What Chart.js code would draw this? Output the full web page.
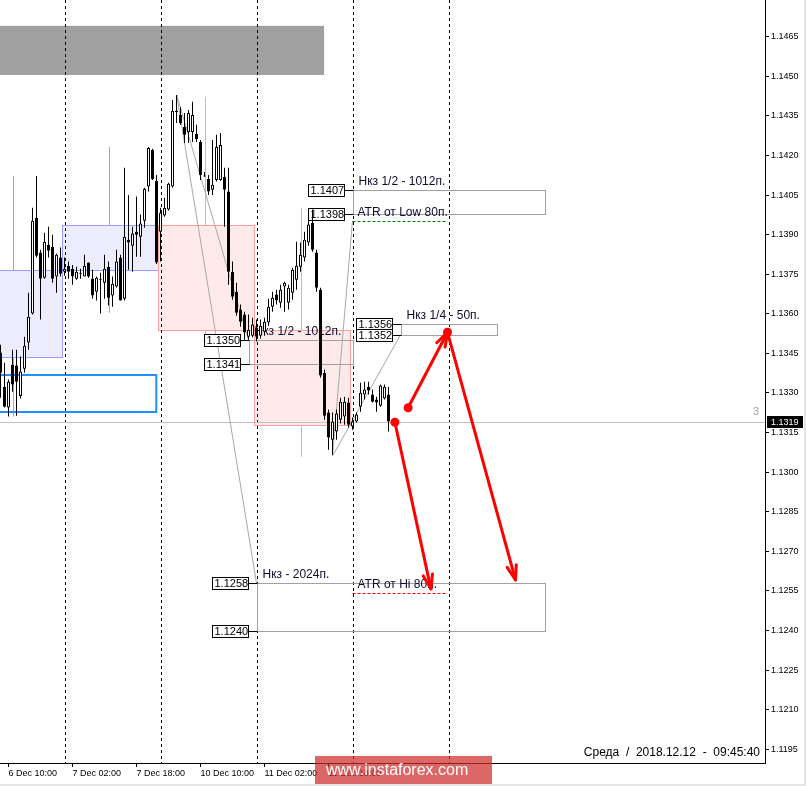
<!DOCTYPE html>
<html>
<head>
<meta charset="utf-8">
<script src="https://cdn.jsdelivr.net/npm/chart.js@4.4.1/dist/chart.umd.min.js"></script>
<style>
  html, body { margin: 0; padding: 0; background: #fff; }
</style>
</head>
<body>
<canvas id="grafico" width="806" height="786"></canvas>
<script>
// H1 bars, first one is 6 Dec 08:00 (bar index -2), 6 Dec 10:00 = 0
const firstBar = -2

const open = [
  1.13453, 1.13324, 1.13245, 1.13407, 1.13404, 1.13289, 1.13392, 1.13491, 1.13601, 1.13964,
  1.13832, 1.13737, 1.13862, 1.13854, 1.13741, 1.13813, 1.13759, 1.13782, 1.13771, 1.13733,
  1.13752, 1.13741, 1.13794, 1.13733, 1.13684, 1.13733, 1.13718, 1.13778, 1.13669, 1.13703,
  1.13813, 1.13657, 1.13881, 1.13858, 1.13911, 1.13892, 1.13953, 1.14082, 1.14221, 1.14104,
  1.13911, 1.13972, 1.13995, 1.14082, 1.14365, 1.14353, 1.14308, 1.14289, 1.14289, 1.14281,
  1.14251, 1.14122, 1.14111, 1.14070, 1.14107, 1.14107, 1.14119, 1.14063, 1.13759, 1.13684,
  1.13616, 1.13597, 1.13513, 1.13517, 1.13548, 1.13517, 1.13532, 1.13567, 1.13627, 1.13673,
  1.13642, 1.13703, 1.13642, 1.13680, 1.13729, 1.13778, 1.13813, 1.13870, 1.13945, 1.13832,
  1.13691, 1.13377, 1.13226, 1.13123, 1.13154, 1.13199, 1.13211, 1.13264, 1.13173, 1.13192,
  1.13248, 1.13294, 1.13324, 1.13294, 1.13275, 1.13252, 1.13279, 1.13294
]
const high = [
  1.13483, 1.13415, 1.13351, 1.13464, 1.13464, 1.13438, 1.13513, 1.13680, 1.14002, 1.14122,
  1.13843, 1.13907, 1.13930, 1.13900, 1.13828, 1.13851, 1.13813, 1.13798, 1.13785, 1.13778,
  1.13771, 1.13824, 1.13794, 1.13767, 1.13741, 1.13756, 1.13824, 1.13798, 1.13741, 1.13843,
  1.13824, 1.14153, 1.14050, 1.13930, 1.14044, 1.13976, 1.14078, 1.14232, 1.14225, 1.14126,
  1.14002, 1.14040, 1.14097, 1.14410, 1.14429, 1.14384, 1.14361, 1.14372, 1.14403, 1.14316,
  1.14259, 1.14137, 1.14126, 1.14259, 1.14278, 1.14285, 1.14153, 1.14153, 1.13798, 1.13718,
  1.13635, 1.13608, 1.13597, 1.13585, 1.13578, 1.13578, 1.13585, 1.13657, 1.13684, 1.13691,
  1.13710, 1.13721, 1.13710, 1.13774, 1.13873, 1.13870, 1.13911, 1.13987, 1.13995, 1.13843,
  1.13699, 1.13389, 1.13237, 1.13226, 1.13237, 1.13282, 1.13286, 1.13282, 1.13207, 1.13226,
  1.13339, 1.13343, 1.13343, 1.13313, 1.13286, 1.13332, 1.13332, 1.13324
]
const low = [
  1.13282, 1.13245, 1.13211, 1.13305, 1.13214, 1.13279, 1.13377, 1.13464, 1.13597, 1.13813,
  1.13578, 1.13733, 1.13813, 1.13718, 1.13680, 1.13741, 1.13744, 1.13733, 1.13710, 1.13729,
  1.13733, 1.13741, 1.13737, 1.13657, 1.13650, 1.13601, 1.13657, 1.13631, 1.13627, 1.13699,
  1.13650, 1.13650, 1.13767, 1.13759, 1.13816, 1.13816, 1.13926, 1.14063, 1.14107, 1.13789,
  1.13798, 1.13968, 1.13991, 1.14078, 1.14323, 1.14316, 1.14247, 1.14247, 1.14251, 1.14251,
  1.14107, 1.14119, 1.14050, 1.14050, 1.14101, 1.14104, 1.13930, 1.13710, 1.13653, 1.13593,
  1.13551, 1.13502, 1.13502, 1.13510, 1.13495, 1.13506, 1.13517, 1.13555, 1.13608, 1.13635,
  1.13623, 1.13608, 1.13616, 1.13653, 1.13691, 1.13759, 1.13798, 1.13858, 1.13835, 1.13684,
  1.13358, 1.13199, 1.13085, 1.13066, 1.13123, 1.13184, 1.13180, 1.13169, 1.13161, 1.13188,
  1.13229, 1.13275, 1.13294, 1.13264, 1.13229, 1.13248, 1.13275, 1.13154
]
const close = [
  1.13377, 1.13248, 1.13343, 1.13332, 1.13343, 1.13381, 1.13479, 1.13589, 1.13953, 1.13820,
  1.13733, 1.13873, 1.13839, 1.13733, 1.13824, 1.13752, 1.13771, 1.13759, 1.13741, 1.13759,
  1.13756, 1.13782, 1.13741, 1.13669, 1.13737, 1.13729, 1.13771, 1.13661, 1.13714, 1.13798,
  1.13650, 1.13892, 1.13870, 1.13904, 1.13900, 1.13942, 1.14074, 1.14228, 1.14111, 1.13794,
  1.13983, 1.14002, 1.14093, 1.14369, 1.14369, 1.14323, 1.14278, 1.14361, 1.14353, 1.14262,
  1.14126, 1.14120, 1.14063, 1.14089, 1.14232, 1.14240, 1.14070, 1.13759, 1.13665, 1.13604,
  1.13570, 1.13529, 1.13540, 1.13559, 1.13513, 1.13555, 1.13570, 1.13627, 1.13661, 1.13650,
  1.13691, 1.13718, 1.13699, 1.13767, 1.13782, 1.13824, 1.13881, 1.13938, 1.13843, 1.13699,
  1.13366, 1.13214, 1.13131, 1.13192, 1.13222, 1.13267, 1.13267, 1.13180, 1.13192, 1.13218,
  1.13301, 1.13313, 1.13309, 1.13267, 1.13264, 1.13328, 1.13324, 1.13192
]

const tickBars = [0, 16, 32, 48, 64, 80]
const tickLabels = ['6 Dec 10:00', '7 Dec 02:00', '7 Dec 18:00', '10 Dec 10:00', '11 Dec 02:00', '11 Dec 18:00']
const priceTicks = [1.1195, 1.1210, 1.1225, 1.1240, 1.1255, 1.1270, 1.1285, 1.1300, 1.1315, 1.1330,
  1.1345, 1.1360, 1.1375, 1.1390, 1.1405, 1.1420, 1.1435, 1.1450, 1.1465]
const daySeparators = [14, 38, 62, 86, 110]

// daily candles drawn over the hourly chart
const dayStart = [-10, 14, 38, 62]
const dayOpen = [1.13438, 1.13767, 1.13938, 1.13540]
const dayClose = [1.13767, 1.13938, 1.13540, 1.13180]
const dayHigh = [1.14122, 1.14232, 1.14422, 1.14002]
const dayLow = [1.13211, 1.13604, 1.13510, 1.13058]

// zones
const zoneNames = ['Нкз 1/2 - 1012п.', 'Нкз 1/2 - 1012п.', 'Нкз 1/4 - 50п.', 'Нкз - 2024п.']
const zoneTop = [1.1407, 1.1350, 1.1356, 1.1258]
const zoneBottom = [1.1398, 1.1341, 1.1352, 1.1240]
const zoneFrom = [86, 60, 98, 62]
const zoneTo = [134.1, 86, 122, 134]

const atrNames = ['ATR от Low 80п.', 'ATR от Hi 80п.']
const atrLevel = [1.13952, 1.12543]
const atrFrom = [86, 86]
const atrTo = [109.7, 109.5]

const greyZone = [1.14691, 1.14505, -10, 78.9]
const blueFrame = [1.13368, 1.13226, -10, 36.95]

const guideFromBar = [42.05, 42.05, 81, 81]
const guideFromPrice = [1.14429, 1.14429, 1.13061, 1.13061]
const guideToBar = [60, 62, 86, 98]
const guideToPrice = [1.1350, 1.1258, 1.13952, 1.1352]

const arrowFromBar = [99.9, 109.75, 96.6]
const arrowFromPrice = [1.13244, 1.1353, 1.13189]
const arrowToBar = [109.75, 126.75, 105.6]
const arrowToPrice = [1.1353, 1.12592, 1.12558]

const currentPrice = 1.1319
const serverTime = 'Среда  /  2018.12.12  -  09:45:40'

const bars = open.map((o, k) => firstBar + k)

function px(v) { return Math.round(v) + 0.5 }

function drawArrow(c, x1, y1, x2, y2) {
    c.beginPath()
    c.moveTo(x1, y1)
    c.lineTo(x2, y2)
    c.stroke()
    const a = Math.atan2(y2 - y1, x2 - x1)
    for (const s of [-0.32, 0.32]) {
        c.beginPath()
        c.moveTo(x2, y2)
        c.lineTo(x2 - 15 * Math.cos(a + s), y2 - 15 * Math.sin(a + s))
        c.stroke()
    }
}

const objetos = {
    id: 'objetos',
    beforeDraw(chart) {
        const c = chart.ctx
        c.save()
        c.fillStyle = '#fff'
        c.fillRect(0, 0, chart.width, chart.height)
        c.fillStyle = '#e4e4e4'
        c.fillRect(804, 0, 2, chart.height)
        c.fillRect(0, 784, chart.width, 2)
        c.restore()
    },
    beforeDatasetsDraw(chart) {
        const c = chart.ctx
        const a = chart.chartArea
        const X = v => chart.scales.x.getPixelForValue(v)
        const Y = v => chart.scales.y.getPixelForValue(v)
        c.save()
        c.beginPath()
        c.rect(a.left, a.top, a.right - a.left, a.bottom - a.top)
        c.clip()

        // grey zone at top
        c.fillStyle = '#a0a0a0'
        c.fillRect(X(greyZone[2]), Y(greyZone[0]), X(greyZone[3]) - X(greyZone[2]), Y(greyZone[1]) - Y(greyZone[0]))

        // daily candles
        dayStart.forEach((d, k) => {
            const up = dayClose[k] >= dayOpen[k]
            const line = up ? '#9c9cff' : '#ffa0a0'
            const fill = up ? '#ececfe' : '#ffeaea'
            const l = px(X(d - 0.75)), r = px(X(d + 23.3))
            const t = px(Y(Math.max(dayOpen[k], dayClose[k])))
            const b = px(Y(Math.min(dayOpen[k], dayClose[k])))
            c.fillStyle = fill
            c.fillRect(l, t, r - l, b - t)
            c.strokeStyle = line
            c.lineWidth = 1
            c.strokeRect(l, t, r - l, b - t)
            const m = px(X(d + 11))
            c.beginPath()
            c.moveTo(m, Y(dayHigh[k])); c.lineTo(m, t)
            c.moveTo(m, b); c.lineTo(m, Y(dayLow[k]))
            c.stroke()
        })

        // blue frame
        c.strokeStyle = '#1e90ff'
        c.lineWidth = 2
        c.strokeRect(X(blueFrame[2]), Math.round(Y(blueFrame[0])), X(blueFrame[3]) - X(blueFrame[2]), Math.round(Y(blueFrame[1]) - Y(blueFrame[0])))

        // day separators
        c.strokeStyle = '#000'
        c.lineWidth = 1
        c.setLineDash([3, 3])
        daySeparators.forEach(d => {
            c.beginPath()
            c.moveTo(px(X(d)), a.top)
            c.lineTo(px(X(d)), a.bottom)
            c.stroke()
        })
        c.setLineDash([])

        // current price line
        c.strokeStyle = '#c0c0c0'
        c.beginPath()
        c.moveTo(a.left, px(Y(currentPrice)))
        c.lineTo(a.right, px(Y(currentPrice)))
        c.stroke()

        // guide lines
        c.strokeStyle = '#a8a8a8'
        guideFromBar.forEach((b, k) => {
            c.beginPath()
            c.moveTo(X(b), Y(guideFromPrice[k]))
            c.lineTo(X(guideToBar[k]), Y(guideToPrice[k]))
            c.stroke()
        })

        // zones with price labels
        c.textBaseline = 'middle'
        zoneNames.forEach((name, k) => {
            const l = px(X(zoneFrom[k])), r = px(X(zoneTo[k]))
            const t = px(Y(zoneTop[k])), b = px(Y(zoneBottom[k]))
            c.strokeStyle = '#a0a0a0'
            c.lineWidth = 1
            c.strokeRect(l, t, r - l, b - t)
            for (const p of [zoneTop[k], zoneBottom[k]]) {
                const y = px(Y(p))
                c.strokeStyle = '#000'
                c.beginPath()
                c.moveTo(l - 9, y); c.lineTo(l, y)
                c.stroke()
                c.fillStyle = '#fff'
                c.fillRect(l - 45, y - 6, 36, 12)
                c.strokeRect(l - 45, y - 6, 36, 12)
                c.fillStyle = '#000'
                c.font = '11px "Liberation Sans"'
                c.textAlign = 'left'
                c.fillText(p.toFixed(4), l - 43, y + 0.5)
            }
            c.fillStyle = '#0c0c30'
            c.font = '12px "Liberation Sans"'
            c.fillText(name, l + 5, t - 9)
        })

        // ATR lines
        atrNames.forEach((name, k) => {
            const y = px(Y(atrLevel[k]))
            c.strokeStyle = k === 0 ? '#008000' : '#ff0000'
            c.setLineDash([3, 2])
            c.beginPath()
            c.moveTo(X(atrFrom[k]), y)
            c.lineTo(X(atrTo[k]), y)
            c.stroke()
            c.setLineDash([])
            c.fillStyle = '#0c0c30'
            c.font = '12px "Liberation Sans"'
            c.fillText(name, X(atrFrom[k]) + 5, y - 9)
        })

        // red arrows
        c.strokeStyle = '#ff0000'
        c.fillStyle = '#ff0000'
        c.lineWidth = 3
        c.lineCap = 'round'
        arrowFromBar.forEach((b, k) => {
            const x1 = X(b), y1 = Y(arrowFromPrice[k])
            drawArrow(c, x1, y1, X(arrowToBar[k]), Y(arrowToPrice[k]))
            c.beginPath()
            c.arc(x1, y1, 4.5, 0, Math.PI * 2)
            c.fill()
        })

        c.fillStyle = '#a0a0a0'
        c.font = '11px "Liberation Sans"'
        c.fillText('3', 753, Y(1.13229))
        c.restore()
    },
    afterDraw(chart) {
        const c = chart.ctx
        const Y = v => chart.scales.y.getPixelForValue(v)
        c.save()
        // price tag
        const y = Math.round(Y(currentPrice))
        c.fillStyle = '#000'
        c.fillRect(767, y - 6, 36, 12)
        c.fillStyle = '#fff'
        c.font = '9px "Liberation Sans"'
        c.textBaseline = 'middle'
        c.textAlign = 'left'
        c.fillText(currentPrice.toFixed(4), 771, y + 0.5)

        // server time
        c.fillStyle = '#000'
        c.font = '12px "Liberation Sans"'
        c.textAlign = 'right'
        c.fillText(serverTime, 760, 753)

        // watermark
        c.fillStyle = 'rgba(205, 45, 45, 0.72)'
        c.fillRect(315, 756, 177, 28)
        c.fillStyle = '#fff'
        c.font = '16px "Liberation Sans"'
        c.textAlign = 'left'
        c.fillText('www.instaforex.com', 326, 771)
        c.restore()
    }
}

const ctx = document.getElementById('grafico').getContext('2d')

const grafico = new Chart(ctx, {
    type: 'bar',
    data: {
        datasets: [{
            label: 'sombras',
            data: bars.map((b, k) => ({ x: b, y: [low[k], high[k]] })),
            backgroundColor: '#000',
            borderWidth: 0,
            barThickness: 1,
            grouped: false,
            inflateAmount: 0,
            order: 2
        }, {
            label: 'corpos',
            data: bars.map((b, k) => ({ x: b, y: [Math.min(open[k], close[k]), Math.max(open[k], close[k])] })),
            backgroundColor: bars.map((b, k) => close[k] > open[k] ? '#fff' : '#000'),
            borderColor: '#000',
            borderWidth: 1,
            borderSkipped: false,
            barThickness: 3,
            minBarLength: 1,
            grouped: false,
            inflateAmount: 0,
            order: 1
        }]
    },
    options: {
        responsive: false,
        animation: false,
        devicePixelRatio: 1,
        events: [],
        layout: { padding: 0 },
        plugins: { legend: { display: false }, tooltip: { enabled: false } },
        scales: {
            x: {
                type: 'linear',
                position: 'bottom',
                offset: false,
                min: -2.125,
                max: 189.125,
                afterBuildTicks: s => { s.ticks = tickBars.map(v => ({ value: v })) },
                afterFit: s => { s.height = 23; s.paddingLeft = 0; s.paddingRight = 0 },
                ticks: {
                    autoSkip: false,
                    maxRotation: 0,
                    align: 'start',
                    padding: 1,
                    color: '#000',
                    font: { family: 'Liberation Sans', size: 9 },
                    callback: v => tickLabels[tickBars.indexOf(v)]
                },
                grid: { offset: false, drawOnChartArea: false, drawTicks: true, tickLength: 4, color: '#000' },
                border: { color: '#000' }
            },
            y: {
                type: 'linear',
                position: 'right',
                min: 1.11898,
                max: 1.14789,
                afterBuildTicks: s => { s.ticks = priceTicks.map(v => ({ value: v })) },
                afterFit: s => { s.width = 41; s.paddingTop = 0; s.paddingBottom = 0 },
                ticks: {
                    autoSkip: false,
                    padding: 2,
                    color: '#000',
                    font: { family: 'Liberation Sans', size: 9 },
                    callback: v => v.toFixed(4)
                },
                grid: { drawOnChartArea: false, drawTicks: true, tickLength: 4, color: '#000' },
                border: { color: '#000' }
            }
        }
    },
    plugins: [objetos]
});
</script>
</body>
</html>
